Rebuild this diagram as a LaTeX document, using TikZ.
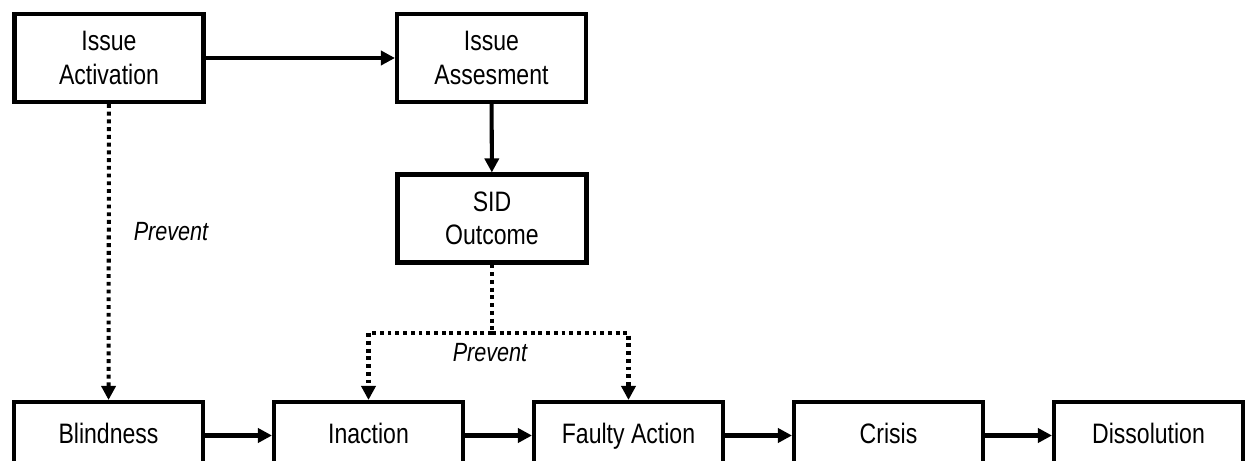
\documentclass[tikz,border=0pt]{standalone}
\usepackage{fontspec}
\setmainfont{Liberation Sans}[FakeStretch=0.82]
\usetikzlibrary{arrows.meta}

\begin{document}
\begin{tikzpicture}[
  box/.style={draw, line width=2.3pt, minimum width=3.78cm, minimum height=1.76cm, align=center, inner sep=0pt, font=\fontsize{16}{19}\selectfont},
  lowbox/.style={box, minimum height=1.34cm, text height=11.5pt, text depth=2.5pt},
  flow/.style={line width=2.3pt, -{Triangle[length=0.28cm,width=0.28cm]}},
  prevent/.style={flow, dash pattern=on 2.2pt off 2.2pt},
  lbl/.style={font=\fontsize{15}{17}\selectfont\itshape}
]
\useasboundingbox (0,0) rectangle (25.02,-9.22);
\node[box] (act) at (2.18,-1.16) {Issue\\Activation};
\node[box] (ass) at (9.83,-1.16) {Issue\\Assesment};
\node[box] (sid) at (9.84,-4.37) {SID\\Outcome};
\foreach \n/\t [count=\i] in {bli/Blindness, ina/Inaction, fau/Faulty Action, cri/Crisis, dis/Dissolution}{
  \node[lowbox] (\n) at ({2.17+5.2*(\i-1)},-8.71) {\t};
}
\draw[flow] (act) -- (ass);
\draw[flow] (ass) -- (sid);
\foreach \a/\b in {bli/ina, ina/fau, fau/cri, cri/dis}{
  \draw[flow] (\a) -- (\b);
}
\coordinate (split) at (sid.south |- 0,-6.66);
\draw[prevent] (act) -- (bli);
\draw[prevent, -] (sid) -- (split);
\draw[prevent] (split) -| (ina.north);
\draw[prevent] (split) -| (fau.north);
\node[lbl] (p1) at (3.42,-4.64) {Prevent};
\node[lbl] (p2) at (9.8,-7.06) {Prevent};
\end{tikzpicture}
\end{document}
